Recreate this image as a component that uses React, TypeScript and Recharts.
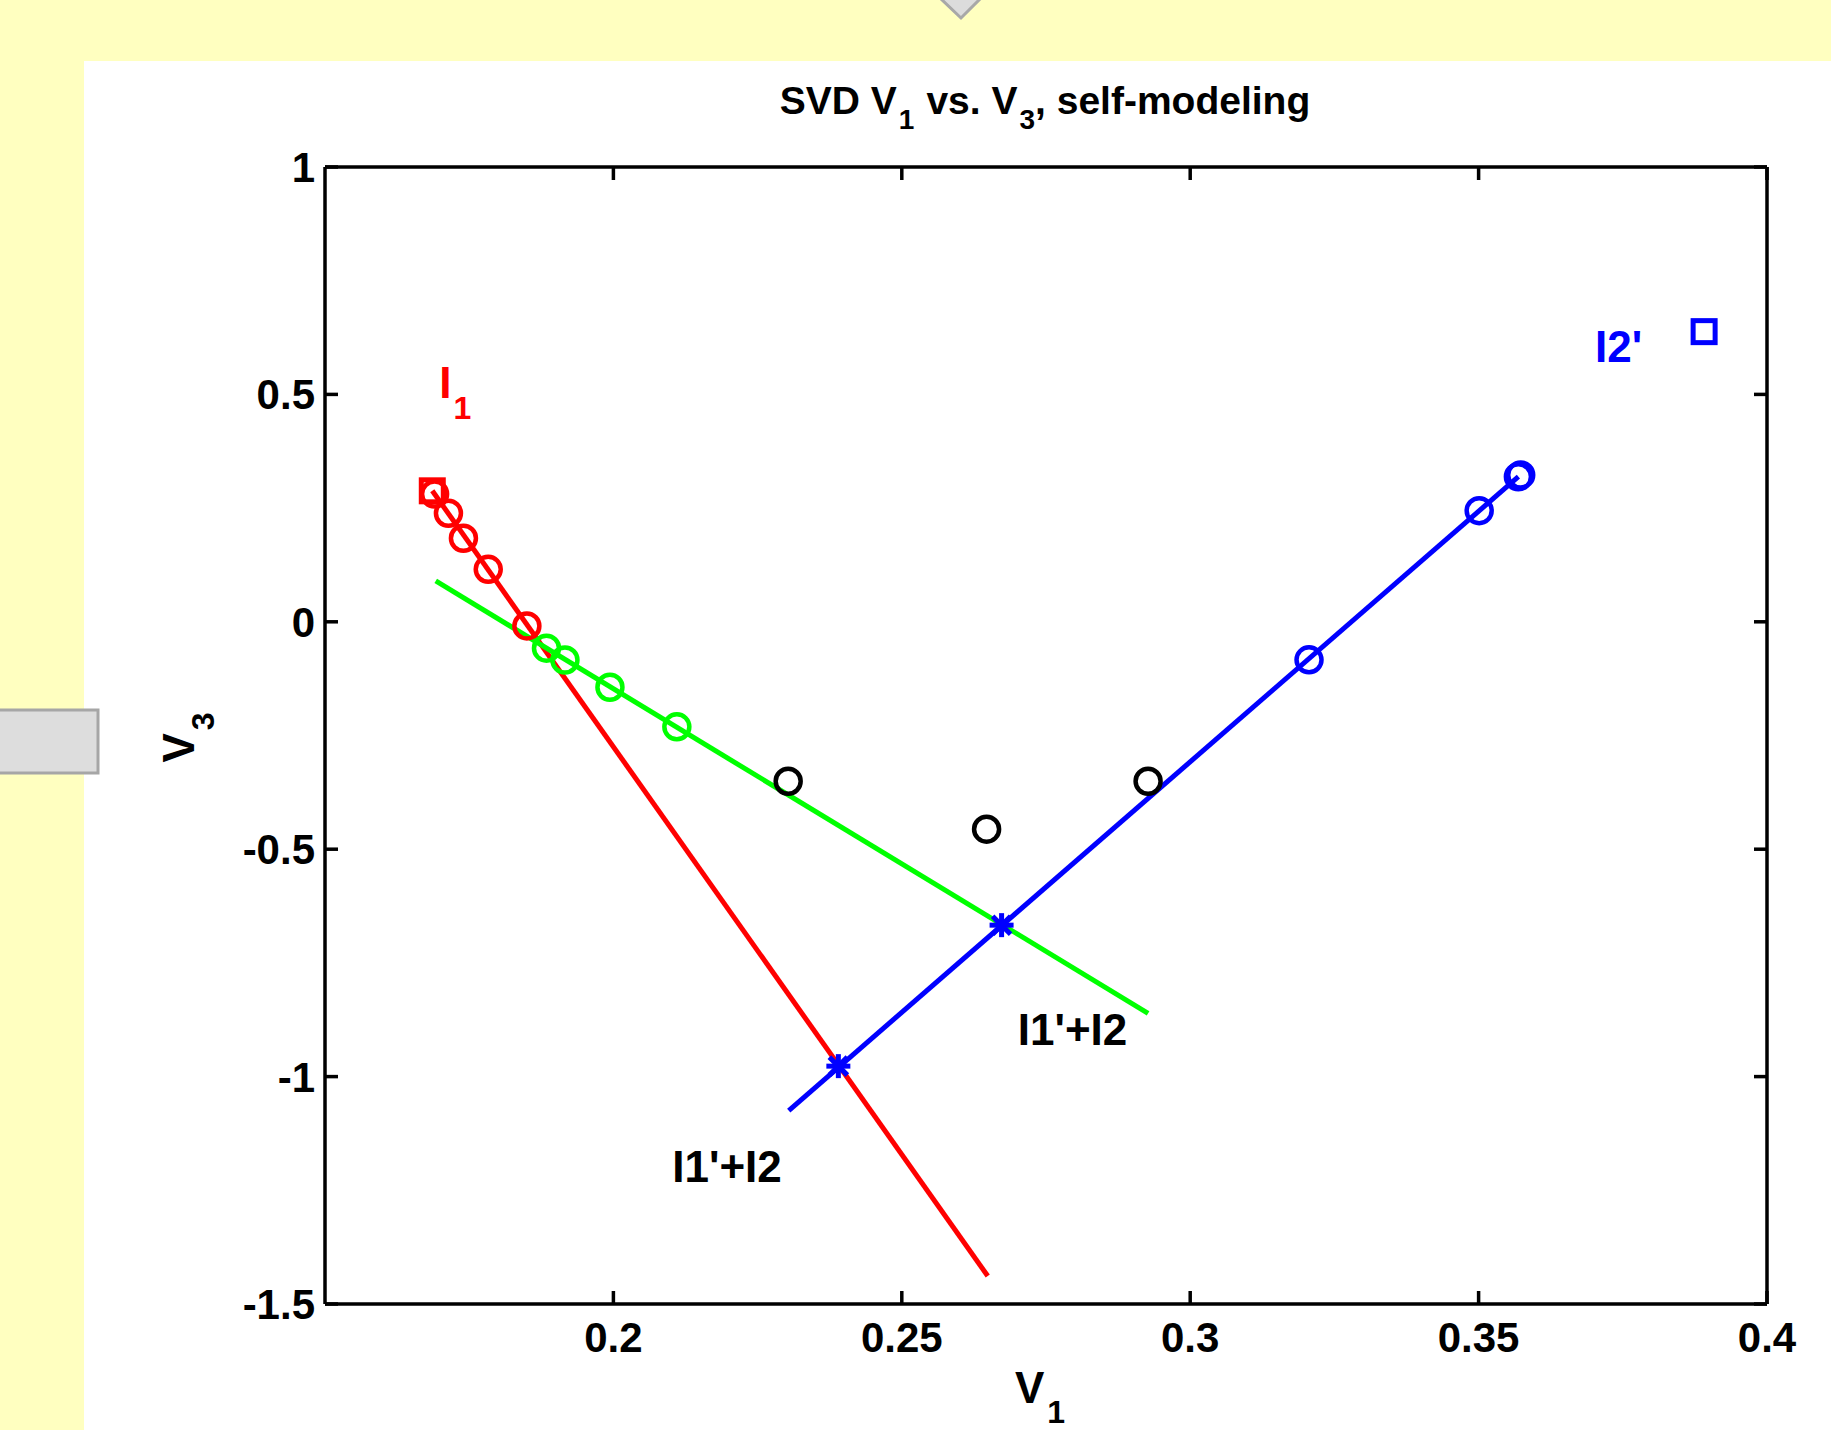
import React from 'react';
import { ScatterChart, Scatter, XAxis, YAxis } from 'recharts';

const X_TICKS = [0.2, 0.25, 0.3, 0.35, 0.4];
const Y_TICKS = [-1.5, -1, -0.5, 0, 0.5, 1];

// fitted lines (two end points each)
const RED_LINE = [
  { x: 0.1686, y: 0.288 },
  { x: 0.2649, y: -1.4385 },
];
const GREEN_LINE = [
  { x: 0.1692, y: 0.09 },
  { x: 0.2927, y: -0.861 },
];
const BLUE_LINE = [
  { x: 0.2304, y: -1.0746 },
  { x: 0.3569, y: 0.319 },
];

// markers
const RED_SQUARE = [{ x: 0.1686, y: 0.288 }];
const RED_CIRCLES = [
  { x: 0.169, y: 0.281 },
  { x: 0.1714, y: 0.2386 },
  { x: 0.174, y: 0.1836 },
  { x: 0.1783, y: 0.1154 },
  { x: 0.185, y: -0.009 },
];
const GREEN_CIRCLES = [
  { x: 0.1884, y: -0.058 },
  { x: 0.1916, y: -0.084 },
  { x: 0.1994, y: -0.144 },
  { x: 0.211, y: -0.231 },
];
const BLACK_CIRCLES = [
  { x: 0.2303, y: -0.3505 },
  { x: 0.2647, y: -0.456 },
  { x: 0.2927, y: -0.3505 },
];
const BLUE_CIRCLES = [
  { x: 0.3206, y: -0.0836 },
  { x: 0.3501, y: 0.2443 },
  { x: 0.3569, y: 0.319 },
  { x: 0.3573, y: 0.323 },
];
const BLUE_STARS = [
  { x: 0.239, y: -0.977 },
  { x: 0.2673, y: -0.667 },
];
const BLUE_SQUARE = [{ x: 0.3891, y: 0.638 }];

// text annotations, anchored at their left baseline
const NOTES = [
  { x: 0.1698, y: 0.492, text: 'I', sub: '1', color: '#ff0000' },
  { x: 0.3702, y: 0.571, text: "I2'", sub: '', color: '#0000ff' },
  { x: 0.2701, y: -0.9305, text: "I1'+I2", sub: '', color: '#000000' },
  { x: 0.2102, y: -1.232, text: "I1'+I2", sub: '', color: '#000000' },
];

const FONT = '"Liberation Sans", Arial, Helvetica, sans-serif';
const YELLOW = '#ffffc0';
const TICK_LEN = 13;
const AXIS_W = 3.5;

const ring = (color: string) => (p: any) => (
  <circle cx={p.cx} cy={p.cy} r={12.5} fill="none" stroke={color} strokeWidth={4.5} />
);

const square = (color: string) => (p: any) => (
  <rect x={p.cx - 11} y={p.cy - 11} width={22} height={22} fill="none" stroke={color} strokeWidth={5} />
);

const star = (color: string) => (p: any) => {
  const s = 12;
  const d = 9;
  return (
    <g stroke={color} strokeWidth={5}>
      <line x1={p.cx - s} y1={p.cy} x2={p.cx + s} y2={p.cy} />
      <line x1={p.cx} y1={p.cy - s} x2={p.cx} y2={p.cy + s} />
      <line x1={p.cx - d} y1={p.cy - d} x2={p.cx + d} y2={p.cy + d} />
      <line x1={p.cx - d} y1={p.cy + d} x2={p.cx + d} y2={p.cy - d} />
    </g>
  );
};

const none = () => <g />;

const note = (p: any) => {
  const n = p.payload;
  return (
    <text x={p.cx} y={p.cy} fill={n.color} fontFamily={FONT} fontWeight="bold" fontSize={44}>
      {n.text}
      {n.sub ? (
        <tspan dx={2} dy={21} fontSize={32}>
          {n.sub}
        </tspan>
      ) : null}
    </text>
  );
};

const tickText = { fill: '#000', fontSize: 42, fontWeight: 'bold', fontFamily: FONT } as const;

// inward ticks, MATLAB style
const BottomTick = (p: any) => {
  const axisY = p.y - 18;
  return (
    <g>
      <line x1={p.x} x2={p.x} y1={axisY} y2={axisY - TICK_LEN} stroke="#000" strokeWidth={AXIS_W} />
      <text x={p.x} y={p.y} dy="0.71em" textAnchor="middle" {...tickText}>
        {String(p.payload.value)}
      </text>
    </g>
  );
};

const LeftTick = (p: any) => {
  const axisX = p.x + 10;
  return (
    <g>
      <line x1={axisX} x2={axisX + TICK_LEN} y1={p.y} y2={p.y} stroke="#000" strokeWidth={AXIS_W} />
      <text x={p.x} y={p.y} dy="0.355em" textAnchor="end" {...tickText}>
        {String(p.payload.value)}
      </text>
    </g>
  );
};

const TopTick = (p: any) => (
  <line x1={p.x} x2={p.x} y1={p.y} y2={p.y + TICK_LEN} stroke="#000" strokeWidth={AXIS_W} />
);

const RightTick = (p: any) => (
  <line x1={p.x} x2={p.x - TICK_LEN} y1={p.y} y2={p.y} stroke="#000" strokeWidth={AXIS_W} />
);

const XLabel = (p: any) => {
  const vb = p.viewBox;
  return (
    <text x={vb.x + vb.width / 2 - 6} y={1403} textAnchor="middle" fontFamily={FONT} fontWeight="bold" fontSize={44}>
      V
      <tspan dx={3} dy={20} fontSize={32}>1</tspan>
    </text>
  );
};

const YLabel = (p: any) => {
  const vb = p.viewBox;
  const cx = 194;
  const cy = vb.y + vb.height / 2 + 2;
  return (
    <text
      x={cx}
      y={cy}
      transform={`rotate(-90 ${cx} ${cy})`}
      textAnchor="middle"
      fontFamily={FONT}
      fontWeight="bold"
      fontSize={44}
    >
      V
      <tspan dx={3} dy={20} fontSize={32}>3</tspan>
    </text>
  );
};

const axisLine = { stroke: '#000', strokeWidth: AXIS_W };

export default function App() {
  return (
    <div
      style={{
        position: 'absolute',
        left: 0,
        top: 0,
        width: 1831,
        height: 1430,
        overflow: 'hidden',
        background: YELLOW,
      }}
    >
      {/* slide decorations */}
      <div style={{ position: 'absolute', left: 84, top: 61, right: 0, bottom: 0, background: '#fff' }} />
      <svg style={{ position: 'absolute', left: 0, top: 0 }} width={1831} height={1430}>
        <polygon points="940,-2 981,-2 961,18" fill="#dcdcdc" stroke="#a8a8a8" strokeWidth={3} />
        <rect x={-3} y={710} width={101} height={63} fill="#dddddd" stroke="#a6a6a6" strokeWidth={3} />
        <text x={1045} y={114} textAnchor="middle" fontFamily={FONT} fontWeight="bold" fontSize={39}>
          SVD V
          <tspan dx={2} dy={15} fontSize={28}>1</tspan>
          <tspan dx={12} dy={-15}>vs. V</tspan>
          <tspan dx={2} dy={15} fontSize={28}>3</tspan>
          <tspan dy={-15}>, self-modeling</tspan>
        </text>
      </svg>
      <div style={{ position: 'absolute', left: 0, top: 0 }}>
        <ScatterChart width={1831} height={1430} margin={{ top: 166, right: 63, bottom: 66, left: 225 }}>
          <XAxis
            xAxisId="b"
            type="number"
            dataKey="x"
            orientation="bottom"
            domain={[0.15, 0.4]}
            allowDataOverflow
            ticks={X_TICKS}
            height={60}
            axisLine={axisLine}
            tickLine={false}
            tickSize={0}
            tickMargin={18}
            tick={<BottomTick />}
            label={<XLabel />}
          />
          <XAxis
            xAxisId="t"
            type="number"
            dataKey="x"
            orientation="top"
            domain={[0.15, 0.4]}
            allowDataOverflow
            ticks={X_TICKS}
            height={1}
            axisLine={axisLine}
            tickLine={false}
            tickSize={0}
            tickMargin={0}
            tick={<TopTick />}
          />
          <YAxis
            yAxisId="l"
            type="number"
            dataKey="y"
            orientation="left"
            domain={[-1.5, 1]}
            allowDataOverflow
            ticks={Y_TICKS}
            width={100}
            axisLine={axisLine}
            tickLine={false}
            tickSize={0}
            tickMargin={10}
            tick={<LeftTick />}
            label={<YLabel />}
          />
          <YAxis
            yAxisId="r"
            type="number"
            dataKey="y"
            orientation="right"
            domain={[-1.5, 1]}
            allowDataOverflow
            ticks={Y_TICKS}
            width={1}
            axisLine={axisLine}
            tickLine={false}
            tickSize={0}
            tickMargin={0}
            tick={<RightTick />}
          />

          <Scatter xAxisId="b" yAxisId="l" data={RED_LINE} line={{ stroke: '#ff0000', strokeWidth: 5 }} shape={none} isAnimationActive={false} />
          <Scatter xAxisId="b" yAxisId="l" data={GREEN_LINE} line={{ stroke: '#00ff00', strokeWidth: 5 }} shape={none} isAnimationActive={false} />
          <Scatter xAxisId="b" yAxisId="l" data={BLUE_LINE} line={{ stroke: '#0000ff', strokeWidth: 5 }} shape={none} isAnimationActive={false} />

          <Scatter xAxisId="b" yAxisId="l" data={RED_CIRCLES} shape={ring('#ff0000')} isAnimationActive={false} />
          <Scatter xAxisId="b" yAxisId="l" data={RED_SQUARE} shape={square('#ff0000')} isAnimationActive={false} />
          <Scatter xAxisId="b" yAxisId="l" data={GREEN_CIRCLES} shape={ring('#00ff00')} isAnimationActive={false} />
          <Scatter xAxisId="b" yAxisId="l" data={BLACK_CIRCLES} shape={ring('#000000')} isAnimationActive={false} />
          <Scatter xAxisId="b" yAxisId="l" data={BLUE_CIRCLES} shape={ring('#0000ff')} isAnimationActive={false} />
          <Scatter xAxisId="b" yAxisId="l" data={BLUE_STARS} shape={star('#0000ff')} isAnimationActive={false} />
          <Scatter xAxisId="b" yAxisId="l" data={BLUE_SQUARE} shape={square('#0000ff')} isAnimationActive={false} />

          <Scatter xAxisId="t" yAxisId="r" data={NOTES} shape={note} isAnimationActive={false} />
        </ScatterChart>
      </div>
    </div>
  );
}
